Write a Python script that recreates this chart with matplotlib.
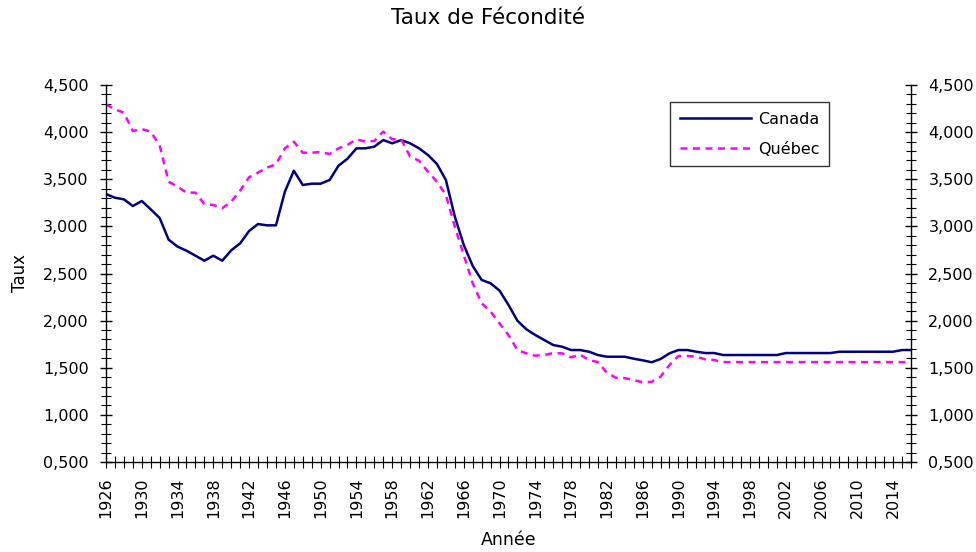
import matplotlib
matplotlib.use("Agg")
import matplotlib.pyplot as plt
from matplotlib.ticker import MultipleLocator, FuncFormatter

plt.rcParams['font.family'] = ['DejaVu Sans']

# Data (taux de fécondité)
years = list(range(1926, 2017))

canada = [3.343, 3.304, 3.287, 3.216, 3.269, 3.181, 3.089, 2.859, 2.785, 2.742,
          2.689, 2.636, 2.689, 2.636, 2.746, 2.820, 2.951, 3.025, 3.011, 3.011,
          3.368, 3.591, 3.439, 3.453, 3.453, 3.492, 3.644, 3.718, 3.828, 3.828,
          3.846, 3.916, 3.881, 3.916, 3.881, 3.828, 3.757, 3.662, 3.492, 3.103,
          2.802, 2.580, 2.431, 2.396, 2.318, 2.166, 1.999, 1.908, 1.847, 1.794,
          1.741, 1.723, 1.688, 1.688, 1.670, 1.635, 1.617, 1.617, 1.617, 1.596,
          1.579, 1.558, 1.593, 1.653, 1.688, 1.688, 1.670, 1.656, 1.656,
          1.635, 1.635, 1.635, 1.635, 1.635, 1.635, 1.635,
          1.656, 1.656, 1.656, 1.656, 1.656, 1.656,
          1.670, 1.670, 1.670, 1.670, 1.670, 1.670, 1.670,
          1.688, 1.688]

quebec = [4.295, 4.242, 4.206, 4.012, 4.033, 4.005, 3.860, 3.474, 3.421, 3.358,
          3.358, 3.237, 3.227, 3.192, 3.262, 3.379, 3.521, 3.570, 3.623, 3.659,
          3.828, 3.899, 3.782, 3.782, 3.789, 3.768, 3.828, 3.864, 3.924, 3.899,
          3.906, 4.005, 3.924, 3.924, 3.740, 3.697, 3.580, 3.474, 3.333, 2.997,
          2.696, 2.396, 2.184, 2.095, 1.972, 1.847, 1.688, 1.653, 1.628, 1.635,
          1.656, 1.653, 1.610, 1.640, 1.582, 1.560, 1.447, 1.394, 1.390, 1.370,
          1.346, 1.350, 1.405, 1.529, 1.625, 1.625, 1.617, 1.589, 1.582] + [1.560] * 22

label_years = list(range(1926, 2015, 4))

W, H = 976, 552
fig = plt.figure(figsize=(W / 100, H / 100), dpi=100)
ax = fig.add_axes([106 / W, 1 - 462 / H, (911 - 106) / W, (462 - 85) / H])

ax.plot(years, canada, color='#000080', lw=1.8, label='Canada')
ax.plot(years, quebec, color='#FF00FF', lw=1.8, ls=(0, (2.8, 2.2)), label='Québec')

ax.set_xlim(1926, 2016)
ax.set_ylim(0.5, 4.5)

# French style labels: 4,500 etc.
fmt = FuncFormatter(lambda v, p: f"{v:.3f}".replace('.', ','))
ax.yaxis.set_major_locator(MultipleLocator(0.5))
ax.yaxis.set_minor_locator(MultipleLocator(0.1))
ax.yaxis.set_major_formatter(fmt)
ax.tick_params(axis='y', which='both', direction='inout', left=True, right=True,
               labelleft=True, labelright=True, labelsize=11.5, pad=8)
ax.tick_params(axis='y', which='major', length=9, width=1)
ax.tick_params(axis='y', which='minor', length=7, width=0.8)

ax.set_xticks(label_years)
ax.set_xticklabels([str(y) for y in label_years], rotation=90)
ax.xaxis.set_minor_locator(MultipleLocator(1))
ax.tick_params(axis='x', which='both', direction='inout', length=8, width=0.8,
               labelsize=11.5, pad=7)

ax.spines['top'].set_visible(False)
for s in ['left', 'right', 'bottom']:
    ax.spines[s].set_linewidth(1)

ax.set_ylabel('Taux', fontsize=12)
ax.yaxis.set_label_coords((29 - 106) / 805, 0.5)
ax.set_xlabel('Année', fontsize=12.5)
ax.xaxis.set_label_coords(0.5, (462 - 531) / 377)
fig.text(0.5, 1 - 18 / H, 'Taux de Fécondité', ha='center', va='center', fontsize=15.5)

leg = ax.legend(loc='upper left', bbox_to_anchor=((670 - 106) / 805, 1 - (102 - 85) / 377),
                borderaxespad=0, fontsize=11.5, frameon=True, fancybox=False,
                edgecolor='black', handlelength=4.5, borderpad=0.6, labelspacing=0.95,
                handletextpad=0.4)
leg.get_frame().set_linewidth(1)

fig.savefig('out.png', dpi=100)
